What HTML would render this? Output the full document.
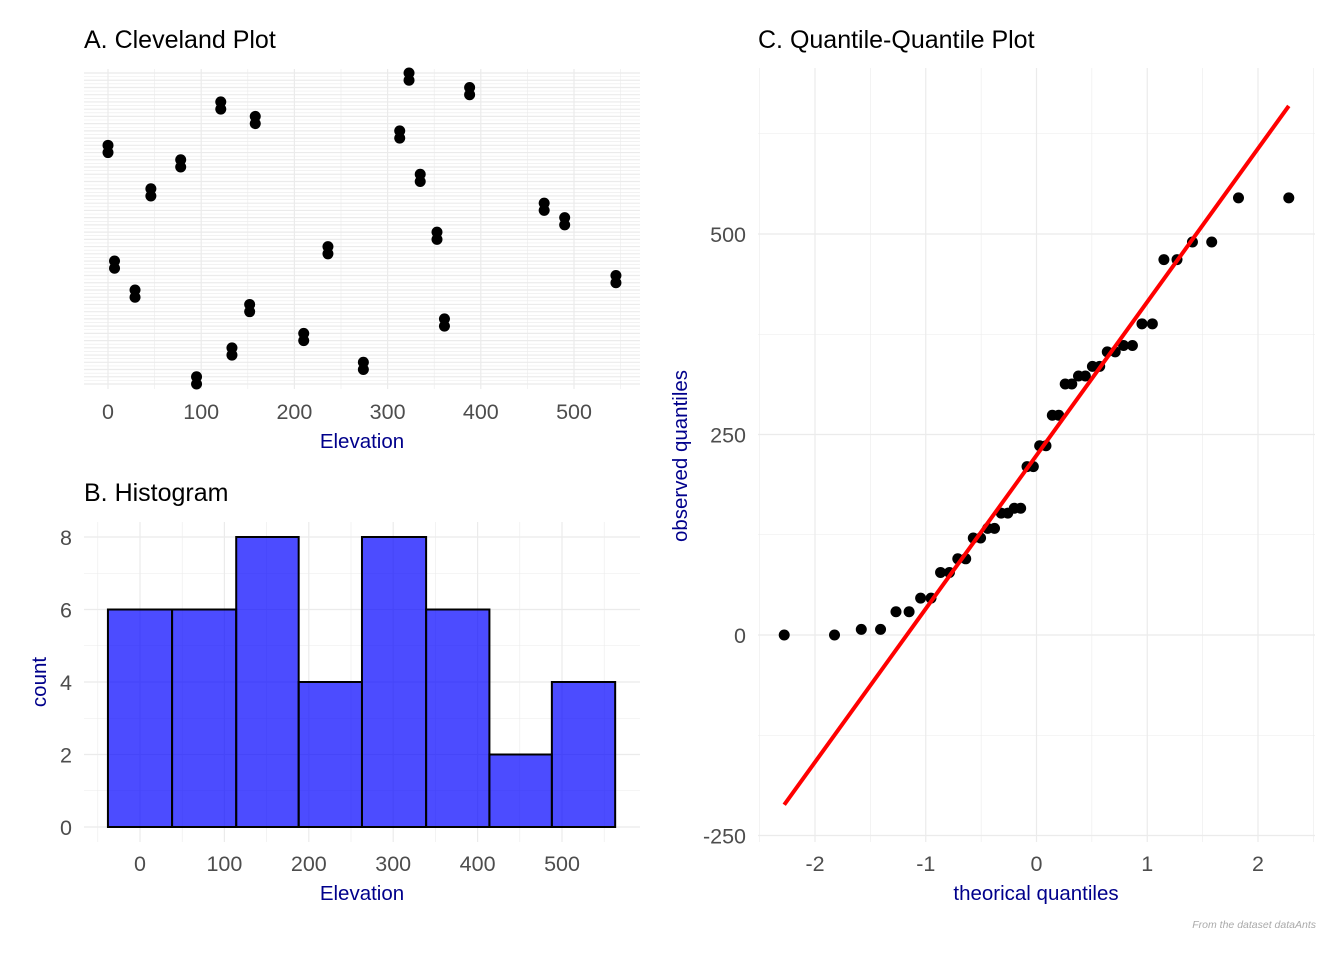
<!DOCTYPE html>
<html><head><meta charset="utf-8">
<style>
body{margin:0;background:#fff;}
svg{display:block;font-family:"Liberation Sans",sans-serif;}
</style></head>
<body>
<svg id="chart" width="1344" height="960" viewBox="0 0 1344 960">
<g id="gA"></g>
<g id="gB"></g>
<g id="gC"></g>
<text x="84" y="48" font-size="25" fill="#000">A. Cleveland Plot</text>
<text x="84" y="501" font-size="25" fill="#000">B. Histogram</text>
<text x="758" y="48" font-size="25" fill="#000">C. Quantile-Quantile Plot</text>
<text x="362" y="448" font-size="20.5" fill="#00008B" text-anchor="middle">Elevation</text>
<text x="362" y="900" font-size="20.5" fill="#00008B" text-anchor="middle">Elevation</text>
<text transform="translate(46,682) rotate(-90)" font-size="20.5" fill="#00008B" text-anchor="middle">count</text>
<text x="1036" y="900" font-size="20.5" fill="#00008B" text-anchor="middle">theorical quantiles</text>
<text transform="translate(687,456) rotate(-90)" font-size="20.5" fill="#00008B" text-anchor="middle">observed quantiles</text>
<text x="1316" y="928" font-size="10.5" font-style="italic" fill="#aaa" text-anchor="end">From the dataset dataAnts</text>
</svg>
<script>
// Cleveland rows (bottom to top), each value appears twice
const elevValues = [95,274,133,210,361,152,29,545,7,236,353,490,468,46,335,78,0,313,158,121,388,323];
const histCounts = [6,6,8,4,8,6,2,4];
const histBreaks = [-38,38,114,188,263,339,414,488,563];
const xTicksElev = [0,100,200,300,400,500];
const histYTicks = [0,2,4,6,8];
const qqYTicks = [-250,0,250,500];
const qqXTicks = [-2,-1,0,1,2];

const NS="http://www.w3.org/2000/svg";
function mk(parent,tag,attrs){const e=document.createElementNS(NS,tag);for(const k in attrs)e.setAttribute(k,attrs[k]);parent.appendChild(e);return e;}
const GRID="#ebebeb", TICK="#4d4d4d", TFS=21.5;

// ---- Panel A ----
const gA=document.getElementById('gA');
const Ax=v=>108+(v-0)*0.932;
const nRows=elevValues.length*2;
const Ay=r=>384-(r-1)*(384-73)/(nRows-1);
const AL=84,AR=640,AT=69,AB=389;
for(let r=1.5;r<nRows;r++){const l=mk(gA,'line',{x1:AL,x2:AR,y1:Ay(r),y2:Ay(r),stroke:GRID,'stroke-width':0.6});
}
for(let r=1;r<=nRows;r++){const l=mk(gA,'line',{x1:AL,x2:AR,y1:Ay(r),y2:Ay(r),stroke:GRID,'stroke-width':1.2});
}
for(let v=-0;v<=550;v+=50){const major=v%100===0;const l=mk(gA,'line',{x1:Ax(v),x2:Ax(v),y1:AT,y2:AB,stroke:GRID,'stroke-width':major?1.2:0.6});
}
xTicksElev.forEach(v=>{const t=mk(gA,'text',{x:Ax(v),y:419,'font-size':TFS,fill:TICK,'text-anchor':'middle'});t.textContent=v;
});
elevValues.forEach((v,i)=>{for(let k=0;k<2;k++){const c=mk(gA,'circle',{cx:Ax(v),cy:Ay(i*2+1+k),r:5.5,fill:'#000'});
}});

// ---- Panel B ----
const gB=document.getElementById('gB');
const Bx=v=>140+v*0.844;
const By=v=>827-v*36.25;
const BL=84,BR=640,BT=522,BB=842;
for(let v=1;v<=7;v+=2){const l=mk(gB,'line',{x1:BL,x2:BR,y1:By(v),y2:By(v),stroke:GRID,'stroke-width':0.6});}
histYTicks.forEach(v=>{const l=mk(gB,'line',{x1:BL,x2:BR,y1:By(v),y2:By(v),stroke:GRID,'stroke-width':1.2});
const t=mk(gB,'text',{x:72,y:By(v)+8,'font-size':TFS,fill:TICK,'text-anchor':'end'});t.textContent=v;});
for(let v=-50;v<=550;v+=50){const major=v%100===0;const l=mk(gB,'line',{x1:Bx(v),x2:Bx(v),y1:BT,y2:BB,stroke:GRID,'stroke-width':major?1.2:0.6});}
xTicksElev.forEach(v=>{const t=mk(gB,'text',{x:Bx(v),y:871,'font-size':TFS,fill:TICK,'text-anchor':'middle'});t.textContent=v;});
histCounts.forEach((c,i)=>{const x0=Bx(histBreaks[i]),x1=Bx(histBreaks[i+1]);
const r=mk(gB,'rect',{x:x0,y:By(c),width:x1-x0,height:By(0)-By(c),fill:'rgba(0,0,255,0.7)',stroke:'#000','stroke-width':2});
});

// ---- Panel C ----
const gC=document.getElementById('gC');
const Cx=v=>1036.5+v*110.75;
const Cy=v=>635-v*0.802;
const CL=758,CR=1315,CT=68,CB=842;
[-125,125,375,625].forEach(v=>{const l=mk(gC,'line',{x1:CL,x2:CR,y1:Cy(v),y2:Cy(v),stroke:GRID,'stroke-width':0.6});});
qqYTicks.forEach(v=>{const l=mk(gC,'line',{x1:CL,x2:CR,y1:Cy(v),y2:Cy(v),stroke:GRID,'stroke-width':1.2});
const t=mk(gC,'text',{x:746,y:Cy(v)+8,'font-size':TFS,fill:TICK,'text-anchor':'end'});t.textContent=v;});
[-2.5,-1.5,-0.5,0.5,1.5,2.5].forEach(v=>{const l=mk(gC,'line',{x1:Cx(v),x2:Cx(v),y1:CT,y2:CB,stroke:GRID,'stroke-width':0.6});});
qqXTicks.forEach(v=>{const l=mk(gC,'line',{x1:Cx(v),x2:Cx(v),y1:CT,y2:CB,stroke:GRID,'stroke-width':1.2});
const t=mk(gC,'text',{x:Cx(v),y:871,'font-size':TFS,fill:TICK,'text-anchor':'middle'});t.textContent=v;});

function qnorm(p){const a=[-39.69683028665376,220.9460984245205,-275.9285104469687,138.357751867269,-30.66479806614716,2.506628277459239],
b=[-54.47609879822406,161.5858368580409,-155.6989798598866,66.80131188771972,-13.28068155288572],
c=[-0.007784894002430293,-0.3223964580411365,-2.400758277161838,-2.549732539343734,4.374664141464968,2.938163982698783],
d=[0.007784695709041462,0.3224671290700398,2.445134137142996,3.754408661907416];
const pl=0.02425;let q,r;
if(p<pl){q=Math.sqrt(-2*Math.log(p));return (((((c[0]*q+c[1])*q+c[2])*q+c[3])*q+c[4])*q+c[5])/((((d[0]*q+d[1])*q+d[2])*q+d[3])*q+1);}
if(p>1-pl){q=Math.sqrt(-2*Math.log(1-p));return -(((((c[0]*q+c[1])*q+c[2])*q+c[3])*q+c[4])*q+c[5])/((((d[0]*q+d[1])*q+d[2])*q+d[3])*q+1);}
q=p-0.5;r=q*q;return (((((a[0]*r+a[1])*r+a[2])*r+a[3])*r+a[4])*r+a[5])*q/(((((b[0]*r+b[1])*r+b[2])*r+b[3])*r+b[4])*r+1);}
const sample=[];elevValues.forEach(v=>{sample.push(v,v);});sample.sort((a,b)=>a-b);
const n=sample.length;
function quant(p){const h=(n-1)*p;const lo=Math.floor(h);return sample[lo]+(h-lo)*((sample[Math.min(lo+1,n-1)])-sample[lo]);}
const theo=sample.map((v,i)=>qnorm((i+0.5)/n));
const q1=quant(0.25),q3=quant(0.75),z1=qnorm(0.25),z3=qnorm(0.75);
const slope=(q3-q1)/(z3-z1),icpt=q1-slope*z1;
const tmin=theo[0],tmax=theo[n-1];
sample.forEach((v,i)=>{const c=mk(gC,'circle',{cx:Cx(theo[i]),cy:Cy(v),r:5.5,fill:'#000'});});
const ln=mk(gC,'line',{x1:Cx(tmin),y1:Cy(icpt+slope*tmin),x2:Cx(tmax),y2:Cy(icpt+slope*tmax),stroke:'#ff0000','stroke-width':4});

</script>
</body></html>
